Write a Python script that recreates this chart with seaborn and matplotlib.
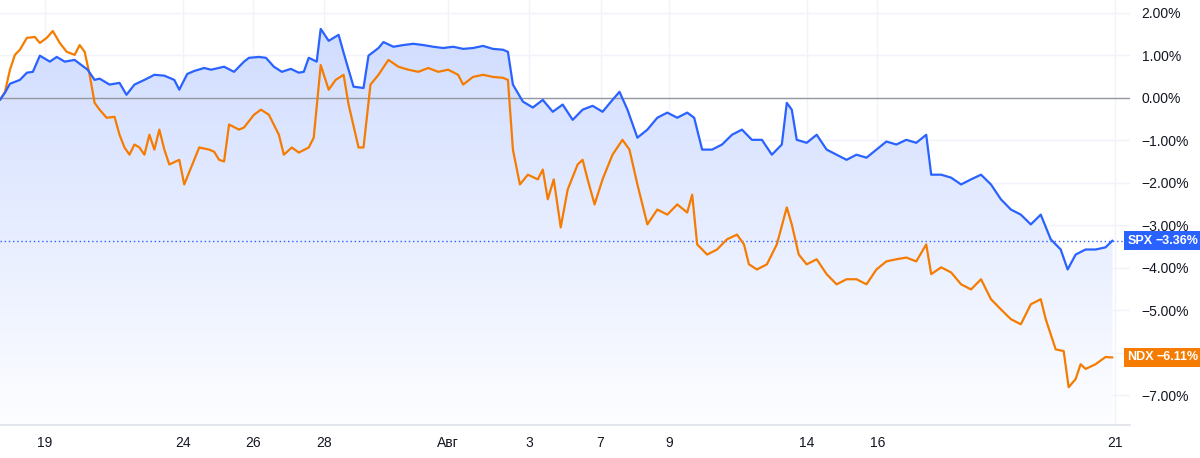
import matplotlib

matplotlib.use("Agg")

import matplotlib.pyplot as plt
import numpy as np
import pandas as pd
import seaborn as sns
from matplotlib.patches import Polygon

# hourly bar index (about 7 bars per trading day), % change since start
spx_bar = [0, 1, 2, 4, 5.4, 6.6, 8, 10, 11.4, 13, 15, 16, 17.6, 19, 20, 22, 24, 25.4, 27, 29, 31, 33, 35, 36,
           37.6, 39, 41, 42.4, 45, 47, 49, 50, 52, 53.4, 55, 56.6, 58.4, 60, 61, 62, 63.6, 64.4, 66, 68, 69, 71,
           73, 74, 76, 77, 79, 81, 83, 85, 87, 89, 91, 93, 95, 97, 99, 101, 102, 103, 105, 107, 109, 111, 113,
           115, 117, 119, 121, 123, 124.4, 126, 128, 130, 132, 134, 136, 138, 139.4, 141, 143, 145, 147, 149,
           151, 153, 155, 157, 158, 159, 160, 162, 164, 166, 168, 170, 172, 174, 176, 178, 180, 182, 184, 186,
           187, 189, 191, 193, 195, 197, 199, 201, 203, 205, 207, 209, 211, 213, 214.4, 216, 218, 220, 222, 223.4]
spx_pct = [-0.05, 0.12, 0.33, 0.42, 0.59, 0.61, 0.99, 0.85, 0.96, 0.85, 0.89, 0.80, 0.66, 0.42, 0.45, 0.31,
           0.35, 0.07, 0.31, 0.42, 0.54, 0.52, 0.42, 0.19, 0.56, 0.63, 0.70, 0.66, 0.73, 0.61, 0.85, 0.94, 0.96,
           0.94, 0.73, 0.61, 0.68, 0.59, 0.61, 0.94, 0.85, 1.62, 1.34, 1.48, 1.06, 0.26, 0.23, 0.99, 1.17, 1.31,
           1.20, 1.24, 1.27, 1.24, 1.20, 1.17, 1.20, 1.15, 1.17, 1.22, 1.15, 1.13, 1.08, 0.31, -0.09, -0.23,
           -0.05, -0.33, -0.16, -0.52, -0.28, -0.19, -0.33, -0.05, 0.14, -0.28, -0.94, -0.75, -0.47, -0.35,
           -0.47, -0.35, -0.47, -1.22, -1.22, -1.10, -0.87, -0.75, -0.99, -0.99, -1.34, -1.10, -0.12, -0.28,
           -0.99, -1.06, -0.87, -1.22, -1.34, -1.46, -1.34, -1.41, -1.22, -1.03, -1.10, -0.99, -1.06, -0.87,
           -1.81, -1.81, -1.88, -2.04, -1.92, -1.81, -2.04, -2.39, -2.63, -2.75, -2.98, -2.75, -3.33, -3.57,
           -4.04, -3.69, -3.57, -3.57, -3.52, -3.36]

ndx_bar = [0, 1, 2, 3, 4, 5.4, 7, 8, 9.4, 10.6, 12, 13.4, 15, 16, 17, 18, 19, 20, 21.4, 23, 24, 25, 26, 27, 28,
           29, 30, 31, 32, 33, 34, 36, 37, 39, 40, 42, 43, 44, 45, 46, 48, 49, 51, 52.4, 54, 56, 57, 58.6, 60,
           62, 63, 64.4, 66, 67.4, 69, 70, 72, 73, 74.4, 76, 78, 80, 82, 84, 86, 88, 90, 92, 93, 95, 97, 99, 101,
           102, 103, 104.4, 106, 108, 109, 110, 111.2, 112.6, 114, 116, 117, 118, 119.4, 121, 123, 125, 126.4,
           128, 130, 132, 134, 136, 138, 139, 140, 142, 144, 146, 148, 149.4, 150.4, 152, 154, 156, 158, 159,
           160.4, 162, 164, 166, 168, 170, 172, 174, 176, 178, 180, 182, 184, 186, 187, 189, 191, 193, 195, 197,
           199, 201, 203, 205, 207, 209, 210, 212, 213.6, 214.6, 216, 217, 218, 220, 222, 223.4]
ndx_pct = [-0.05, 0.14, 0.66, 1.01, 1.13, 1.41, 1.43, 1.29, 1.41, 1.57, 1.29, 1.08, 1.01, 1.24, 1.08, 0.54,
           -0.12, -0.28, -0.47, -0.45, -0.87, -1.17, -1.34, -1.10, -1.17, -1.34, -0.87, -1.22, -0.75, -1.22,
           -1.57, -1.46, -2.04, -1.46, -1.17, -1.22, -1.27, -1.46, -1.50, -0.63, -0.75, -0.70, -0.40, -0.28,
           -0.40, -0.87, -1.34, -1.17, -1.29, -1.17, -0.94, 0.77, 0.19, 0.42, 0.54, -0.16, -1.17, -1.17, 0.31,
           0.54, 0.89, 0.73, 0.66, 0.61, 0.70, 0.61, 0.66, 0.54, 0.31, 0.49, 0.54, 0.49, 0.47, 0.42, -1.22,
           -2.04, -1.81, -1.92, -1.69, -2.39, -1.92, -3.05, -2.16, -1.57, -1.46, -1.92, -2.51, -1.92, -1.34,
           -0.99, -1.22, -2.04, -2.98, -2.63, -2.75, -2.51, -2.70, -2.28, -3.45, -3.69, -3.57, -3.33, -3.22,
           -3.45, -3.92, -4.04, -3.92, -3.45, -2.58, -2.98, -3.69, -3.92, -3.80, -4.15, -4.39, -4.27, -4.27,
           -4.39, -4.04, -3.85, -3.80, -3.76, -3.85, -3.45, -4.15, -3.99, -4.11, -4.39, -4.51, -4.27, -4.74,
           -4.98, -5.21, -5.33, -4.86, -4.74, -5.21, -5.92, -5.96, -6.81, -6.62, -6.27, -6.38, -6.27, -6.10,
           -6.11]

date_ticks = [9, 36.8, 50.8, 65, 90, 106.2, 120.6, 134.4, 162, 176.2, 224]
date_labels = ["19", "24", "26", "28", "Авг", "3", "7", "9", "14", "16", "21"]
pct_ticks = [2, 1, 0, -1, -2, -3, -4, -5, -6, -7]

BLUE = "#2962ff"
ORANGE = "#f57c00"

sns.set_theme(style="white")
plt.rcParams["font.family"] = ["Liberation Sans", "DejaVu Sans"]

spx = pd.DataFrame({"bar": spx_bar, "pct": spx_pct})
ndx = pd.DataFrame({"bar": ndx_bar, "pct": ndx_pct})

fig = plt.figure(figsize=(12, 4.58), dpi=100)
ax = fig.add_axes([0.0, 0.072, 0.942, 0.928])
y_lo, y_hi = -7.7, 2.3
x_lo, x_hi = 0, 227
ax.set_xlim(x_lo, x_hi)
ax.set_ylim(y_lo, y_hi)

for t in date_ticks:
    ax.axvline(t, color="#f0f3fa", lw=1, zorder=0)
for p in pct_ticks:
    ax.axhline(p, color="#f0f3fa", lw=1, zorder=0)

# gradient fill under SPX
grad = np.linspace(0.01, 0.22, 256)[:, None]
cmap = matplotlib.colors.LinearSegmentedColormap.from_list("g", ["#ffffff", BLUE])
img = ax.imshow(grad, cmap=cmap, vmin=0, vmax=1, aspect="auto", origin="lower",
                extent=[x_lo, spx_bar[-1], y_lo, 1.7], zorder=1)
poly = Polygon(list(zip(spx_bar, spx_pct)) + [(spx_bar[-1], y_lo), (spx_bar[0], y_lo)],
               closed=True, facecolor="none", edgecolor="none")
ax.add_patch(poly)
img.set_clip_path(poly)

ax.axhline(0, color="#9598a1", lw=1, zorder=2)
ax.axhline(spx_pct[-1], color=BLUE, lw=1, ls=(0, (1, 2)), zorder=2)

sns.lineplot(data=ndx, x="bar", y="pct", color=ORANGE, lw=1.6, ax=ax, zorder=3)
sns.lineplot(data=spx, x="bar", y="pct", color=BLUE, lw=1.6, ax=ax, zorder=4)

ax.yaxis.tick_right()
ax.set_yticks(pct_ticks)
ax.set_yticklabels([f"\u2212{abs(p):.2f}%" if p < 0 else f"{p:.2f}%" for p in pct_ticks],
                   color="#131722", fontsize=10)
ax.set_xticks(date_ticks)
ax.set_xticklabels(date_labels, color="#131722", fontsize=10)
ax.tick_params(length=0, pad=8)
ax.set_xlabel("")
ax.set_ylabel("")
for s in ["top", "left", "right"]:
    ax.spines[s].set_visible(False)
ax.spines["bottom"].set_color("#e0e3eb")

for name, val, col in [("SPX", spx_pct[-1], BLUE), ("NDX", ndx_pct[-1], ORANGE)]:
    ax.text(0.9975, val, name, transform=ax.get_yaxis_transform(), color="white", fontsize=9,
            fontweight="bold", va="center", ha="left", zorder=6, clip_on=False,
            bbox=dict(boxstyle="square,pad=0.25", fc=col, ec="none"))
    ax.text(1.0605, val, f"\u2212{abs(val):.2f}%", transform=ax.get_yaxis_transform(), color="white",
            fontsize=9, fontweight="bold", va="center", ha="right", zorder=6, clip_on=False,
            bbox=dict(boxstyle="square,pad=0.25", fc=col, ec="none"))

fig.savefig("out.png", dpi=100)
